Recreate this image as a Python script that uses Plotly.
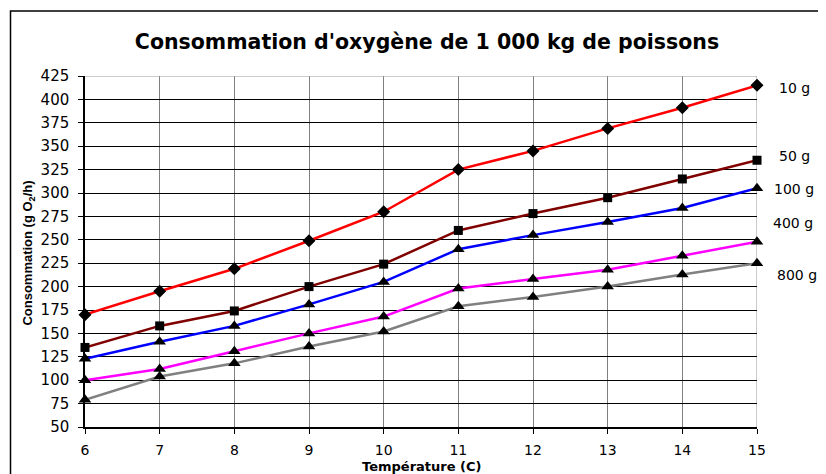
import plotly.graph_objects as go

temperature = [6, 7, 8, 9, 10, 11, 12, 13, 14, 15]
series_names = ["10 g", "50 g", "100 g", "400 g", "800 g"]
conso_10g = [170, 195, 219, 249, 280, 325, 345, 369, 391, 415]
conso_50g = [135, 158, 174, 200, 224, 260, 278, 295, 315, 335]
conso_100g = [123, 141, 158, 181, 205, 240, 255, 269, 284, 305]
conso_400g = [100, 112, 131, 150, 168, 198, 208, 218, 233, 248]
conso_800g = [79, 104, 118, 136, 152, 179, 189, 200, 213, 225]
y_ticks = list(range(50, 426, 25))

series = [conso_10g, conso_50g, conso_100g, conso_400g, conso_800g]
colors = ["#FF0000", "#800000", "#0000FF", "#FF00FF", "#808080"]
symbols = ["diamond", "square", "triangle-up", "triangle-up", "triangle-up"]
msizes = [10, 9, 11, 11, 11]
# label positions (data y) and pixel shift for right-hand labels
label_y = [412, 340, 304, 267.5, 212]
label_shift = [20, 20, 15, 14, 18]

FONT = "DejaVu Sans, Liberation Sans, Arial, sans-serif"
FONT_Y = "Liberation Sans, Arial, sans-serif"

# page body has an 8px margin: the figure itself is 818x466 placed at (8, 8)
W, H = 818, 466
L, R, T, B = 77, 69, 68, 47
PW, PH = W - L - R, H - T - B

fig = go.Figure()
for name, vals, c, s, ms in zip(series_names, series, colors, symbols, msizes):
    fig.add_trace(go.Scatter(
        x=temperature, y=vals, mode="lines+markers", name=name,
        line=dict(color=c, width=2.5),
        marker=dict(symbol=s, size=ms, color="black"),
        cliponaxis=False, showlegend=False,
    ))

annotations = []
for name, ly, sh in zip(series_names, label_y, label_shift):
    annotations.append(dict(
        x=15, y=ly, xref="x", yref="y", text=name, showarrow=False,
        xanchor="left", yanchor="middle", xshift=sh,
        font=dict(family=FONT, size=14, color="black"),
    ))
annotations.append(dict(
    x=0.5, y=0, xref="paper", yref="paper", text="<b>Température (C)</b>",
    showarrow=False, xanchor="center", yanchor="middle", yshift=-39,
    font=dict(family=FONT, size=13, color="black"),
))
annotations.append(dict(
    x=0, y=0.494, xref="paper", yref="paper",
    text="<b>Consommation (g O<sub>2</sub>/h)</b>", textangle=-90,
    showarrow=False, xanchor="center", yanchor="middle", xshift=-56,
    font=dict(family=FONT_Y, size=13, color="black"),
))

fig.update_layout(
    width=W, height=H,
    margin=dict(l=L, r=R, t=T, b=B),
    paper_bgcolor="white", plot_bgcolor="white",
    title=dict(
        text="<b>Consommation d'oxygène de 1 000 kg de poissons</b>",
        x=419 / W, xanchor="center", xref="container",
        y=1 - 34 / H, yanchor="middle", yref="container",
        font=dict(family=FONT, size=20.5, color="black"),
    ),
    annotations=annotations,
    shapes=[
        dict(type="rect", xref="paper", yref="paper",
             x0=(2.5 - L) / PW, x1=1.3, y0=-0.3, y1=(T + PH - 3) / PH,
             line=dict(color="black", width=1.5), layer="below"),
        dict(type="line", xref="x", yref="y", x0=6, x1=15, y0=425, y1=425,
             line=dict(color="#999999", width=1), layer="above"),
        dict(type="line", xref="x", yref="y", x0=15, x1=15, y0=50, y1=425,
             line=dict(color="#999999", width=1), layer="below"),
    ],
)

fig.update_xaxes(
    range=[6, 15], tickvals=temperature, ticktext=[str(t) for t in temperature],
    showgrid=True, gridcolor="#808080", gridwidth=1,
    showline=True, linecolor="black", linewidth=1.5,
    ticks="outside", ticklen=5, tickcolor="black", ticklabelstandoff=4,
    tickfont=dict(family=FONT, size=14, color="black"),
    zeroline=False,
)
fig.update_yaxes(
    range=[50, 425], tickvals=y_ticks,
    showgrid=True, gridcolor="black", gridwidth=1,
    showline=True, linecolor="black", linewidth=1.5,
    ticks="outside", ticklen=5, tickcolor="black", ticklabelstandoff=6,
    tickfont=dict(family=FONT, size=15, color="black"),
    zeroline=False,
)

fig.write_html("out.html")
